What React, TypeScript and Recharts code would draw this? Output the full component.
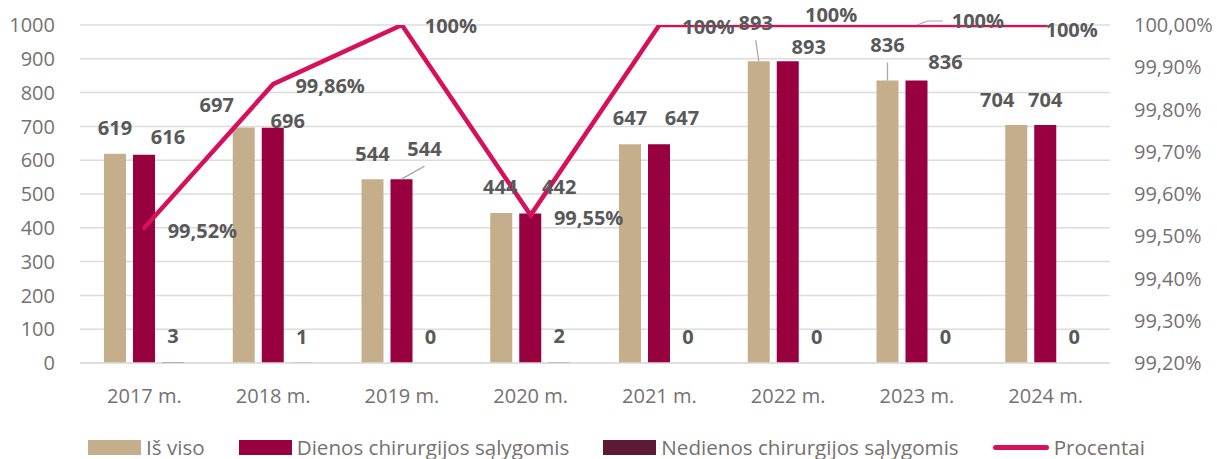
import React from 'react';
import { ComposedChart, Bar, Line, XAxis, YAxis, CartesianGrid, Legend, LabelList } from 'recharts';

const CATEGORIES = ['2017 m.', '2018 m.', '2019 m.', '2020 m.', '2021 m.', '2022 m.', '2023 m.', '2024 m.'];
const IS_VISO = [619, 697, 544, 444, 647, 893, 836, 704];
const DIENOS = [616, 696, 544, 442, 647, 893, 836, 704];
const NEDIENOS = [3, 1, 0, 2, 0, 0, 0, 0];
const PROCENTAI = [99.52, 99.86, 100, 99.55, 100, 100, 100, 100];
const LEFT_TICKS = [0, 100, 200, 300, 400, 500, 600, 700, 800, 900, 1000];
const RIGHT_TICKS = [99.2, 99.3, 99.4, 99.5, 99.6, 99.7, 99.8, 99.9, 100];

const SERIES_NAMES = {
  isViso: 'Iš viso',
  dienos: 'Dienos chirurgijos sąlygomis',
  nedienos: 'Nedienos chirurgijos sąlygomis',
  procentai: 'Procentai',
};

const COLORS = {
  isViso: '#C5AE8B',
  dienos: '#98003F',
  nedienos: '#5C1A33',
  procentai: '#D6105A',
  grid: '#DCDCDC',
  tick: '#767171',
  label: '#595959',
  leader: '#A6A6A6',
};

// label placement: offset of the label centre from the bar-top centre / line point
const IS_VISO_LABEL = [[0, -26], [-27, -22], [0, -25], [-1, -26], [0, -26], [-3, -38], [0, -35], [-19, -25]];
const IS_VISO_LEADER = [false, false, false, false, false, true, true, false];
const DIENOS_LABEL = [[24, -18], [15, -7], [23, -30], [29, -27], [23, -26], [21, -14], [29, -18], [0, -25]];
const DIENOS_LEADER = [false, false, true, false, false, false, false, false];
const NEDIENOS_LABEL = [[0, -26], [0, -26], [0, -26], [0, -26], [0, -26], [0, -26], [0, -26], [0, -26]];
const NEDIENOS_LEADER = [false, false, false, false, false, false, false, false];
const PROC_LABEL = [[58, 3], [57, 2], [49, 1], [58, 3], [49, 2], [43, -10], [61, -4], [26, 5]];
const PROC_LEADER = [false, false, false, false, false, false, true, false];

const FONT = '"Open Sans", "DejaVu Sans", sans-serif';

const data = CATEGORIES.map((c, i) => ({
  cat: c,
  isViso: IS_VISO[i],
  dienos: DIENOS[i],
  nedienos: NEDIENOS[i],
  procentai: PROCENTAI[i],
}));

const fmtPct = (v: number) => (v === 100 ? '100%' : v.toFixed(2).replace('.', ',') + '%');
const fmtAxisPct = (v: number) => v.toFixed(2).replace('.', ',') + '%';

function makeLabel(offsets: number[][], leaders: boolean[], format: (v: number) => string, kind: 'bar' | 'line') {
  return (props: any) => {
    const { index, value } = props;
    const vb = props.viewBox || {};
    const x = vb.x ?? props.x;
    const y = vb.y ?? props.y;
    const w = vb.width ?? props.width ?? 0;
    const h = vb.height ?? props.height ?? 0;
    if (x == null || y == null || index == null) return null;
    const ax = x + (kind === 'bar' ? w / 2 : 0);
    const ay = kind === 'bar' && h < 0 ? y + h : y;
    const [dx, dy] = offsets[index] || [0, -20];
    const cx = ax + dx;
    const cy = ay + dy;
    const text = format(Number(value));
    let leader: React.ReactNode = null;
    if (leaders[index]) {
      if (kind === 'bar') {
        leader = <line x1={ax} y1={ay} x2={cx} y2={cy + 17} stroke={COLORS.leader} strokeWidth={1.2} />;
      } else {
        const left = cx - 27;
        leader = (
          <polyline
            points={`${ax},${ay} ${left - 23},${cy} ${left - 8},${cy}`}
            fill="none"
            stroke={COLORS.leader}
            strokeWidth={1.2}
          />
        );
      }
    }
    return (
      <g>
        {leader}
        <text
          x={cx}
          y={cy + 7}
          textAnchor="middle"
          fontFamily={FONT}
          fontWeight={700}
          fontSize={20}
          fill={COLORS.label}
        >
          {text}
        </text>
      </g>
    );
  };
}

const LegendContent = () => {
  const items = [
    { key: 'isViso', type: 'rect' },
    { key: 'dienos', type: 'rect' },
    { key: 'nedienos', type: 'rect' },
    { key: 'procentai', type: 'line' },
  ] as const;
  return (
    <div
      style={{
        height: 40,
        boxSizing: 'border-box',
        paddingTop: 16,
        paddingLeft: 16,
        display: 'flex',
        alignItems: 'center',
        justifyContent: 'center',
        gap: 34,
        fontFamily: FONT,
        fontSize: 20.6,
        color: COLORS.tick,
        whiteSpace: 'nowrap',
      }}
    >
      {items.map((it) => (
        <div key={it.key} style={{ display: 'flex', alignItems: 'center', gap: 5 }}>
          {it.type === 'rect' ? (
            <div style={{ width: 53, height: 15, background: (COLORS as any)[it.key] }} />
          ) : (
            <div style={{ width: 56, height: 5, borderRadius: 3, background: COLORS.procentai }} />
          )}
          <span>{(SERIES_NAMES as any)[it.key]}</span>
        </div>
      ))}
    </div>
  );
};

export default function App() {
  return (
    <div style={{ position: 'absolute', left: 0, top: 0, width: 1217, height: 459, background: '#FFFFFF' }}>
      <ComposedChart
        width={1217}
        height={459}
        data={data}
        margin={{ top: 25, right: 0, bottom: 0, left: 0 }}
        barSize={22}
        barGap={7}
      >
        <CartesianGrid yAxisId="left" vertical={false} stroke={COLORS.grid} strokeWidth={1.5} />
        <XAxis
          dataKey="cat"
          height={56}
          tickSize={0}
          tickMargin={26}
          tickLine={false}
          axisLine={{ stroke: COLORS.grid, strokeWidth: 1.5 }}
          tick={{ fill: COLORS.tick, fontFamily: FONT, fontSize: 20 }}
          interval={0}
        />
        <YAxis
          yAxisId="left"
          orientation="left"
          width={80}
          domain={[0, 1000]}
          ticks={LEFT_TICKS}
          tickSize={0}
          tickMargin={25}
          tickLine={false}
          axisLine={false}
          tick={{ fill: COLORS.tick, fontFamily: FONT, fontSize: 20 }}
          interval={0}
        />
        <YAxis
          yAxisId="right"
          orientation="right"
          width={107}
          domain={[99.2, 100]}
          ticks={RIGHT_TICKS}
          tickFormatter={fmtAxisPct}
          tickSize={0}
          tickMargin={24}
          tickLine={false}
          axisLine={false}
          tick={{ fill: COLORS.tick, fontFamily: FONT, fontSize: 20, textAnchor: 'start' }}
          interval={0}
          allowDataOverflow
        />
        <Legend verticalAlign="bottom" content={<LegendContent />} />
        <Bar yAxisId="left" dataKey="isViso" name={SERIES_NAMES.isViso} fill={COLORS.isViso} isAnimationActive={false}>
          <LabelList dataKey="isViso" content={makeLabel(IS_VISO_LABEL, IS_VISO_LEADER, (v) => String(v), 'bar')} />
        </Bar>
        <Bar yAxisId="left" dataKey="dienos" name={SERIES_NAMES.dienos} fill={COLORS.dienos} isAnimationActive={false}>
          <LabelList dataKey="dienos" content={makeLabel(DIENOS_LABEL, DIENOS_LEADER, (v) => String(v), 'bar')} />
        </Bar>
        <Bar
          yAxisId="left"
          dataKey="nedienos"
          name={SERIES_NAMES.nedienos}
          fill={COLORS.nedienos}
          minPointSize={0.01}
          isAnimationActive={false}
        >
          <LabelList dataKey="nedienos" content={makeLabel(NEDIENOS_LABEL, NEDIENOS_LEADER, (v) => String(v), 'bar')} />
        </Bar>
        <Line
          yAxisId="right"
          type="linear"
          dataKey="procentai"
          name={SERIES_NAMES.procentai}
          stroke={COLORS.procentai}
          strokeWidth={4.5}
          strokeLinecap="round"
          strokeLinejoin="miter"
          dot={false}
          activeDot={false}
          isAnimationActive={false}
        >
          <LabelList dataKey="procentai" content={makeLabel(PROC_LABEL, PROC_LEADER, fmtPct, 'line')} />
        </Line>
      </ComposedChart>
    </div>
  );
}
